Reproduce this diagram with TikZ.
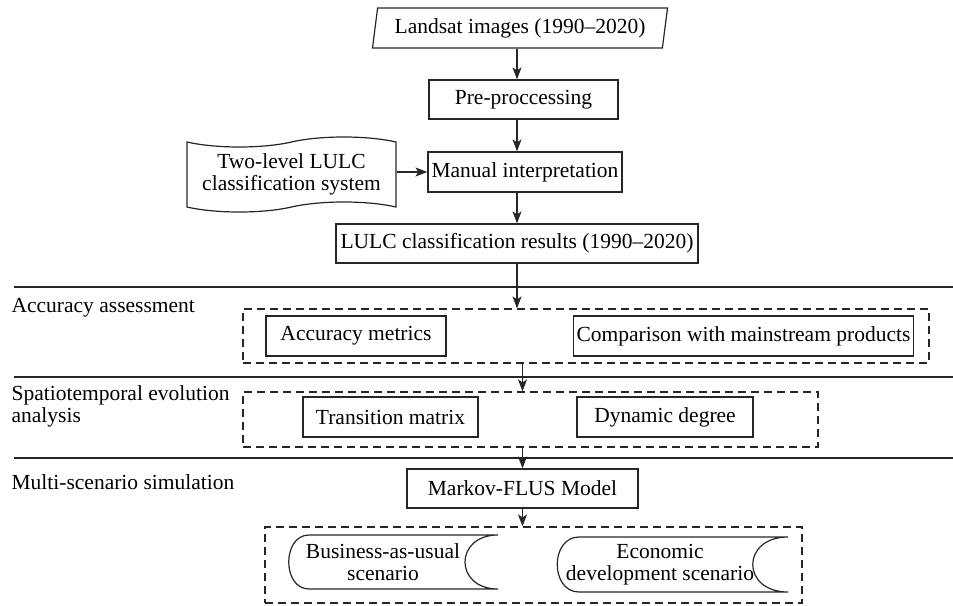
\documentclass[tikz,border=0pt]{standalone}
\usepackage{fontspec}
\setmainfont{Liberation Serif}
\usepackage{tikz}
\usetikzlibrary{arrows.meta,shapes.geometric,shapes.symbols}

\begin{document}
\begin{tikzpicture}[x=1pt,y=-1pt,font=\fontsize{21.5}{22}\selectfont,
line width=1.2pt,draw=black!85,
box/.style={draw, rectangle, inner sep=3pt, minimum height=40pt},
dashbox/.style={draw, rectangle, dash pattern=on 8pt off 5pt},
doc/.style={draw, tape, tape bend height=10pt, align=center, inner sep=3pt},
indata/.style={draw, trapezium, trapezium left angle=79, trapezium right angle=101,
    trapezium stretches body, minimum width=295pt, minimum height=40pt},
arr/.style={-{Stealth[length=12pt,width=9pt,inset=3pt]}},
sep/.style={line width=1.4pt},
stage/.style={anchor=west, align=left, inner sep=0pt}]
\useasboundingbox (0,0) rectangle (953,605);

% data preparation
\node[indata] (landsat) at (520,28) {Landsat images (1990--2020)};
\node[box, minimum width=189pt, minimum height=39pt] (pre) at (523.5,99.5) {Pre-proccessing};
\node[box, minimum width=194pt] (manual) at (525,172) {Manual interpretation};
\node[doc, minimum width=209pt, minimum height=75pt] (lulcsys) at (291.5,174.5) {Two-level LULC\\classification system};
\node[box, minimum width=362pt, minimum height=39pt] (results) at (517,243.5) {LULC classification results (1990--2020)};

% stages
\draw[sep] (14,287) -- (953,287);
\draw[sep] (14,377) -- (953,377);
\draw[sep] (14,458) -- (953,458);
\node[stage] (accstage) at (11,308) {Accuracy assessment};
\node[stage] (evostage) at (11,406) {Spatiotemporal evolution\\analysis};
\node[stage] (simstage) at (11,482) {Multi-scenario simulation};

\node[dashbox, minimum width=686pt, minimum height=54pt] (accgroup) at (586,336) {};
\node[box, minimum width=180pt] (metrics) at (356,336) {Accuracy metrics};
\node[box, minimum width=339pt] (compare) at (743.5,336) {Comparison with mainstream products};

\node[dashbox, minimum width=575pt, minimum height=55pt] (evogroup) at (530.5,419.5) {};
\node[box, minimum width=175pt] (transition) at (390.5,417) {Transition matrix};
\node[box, minimum width=176pt] (dynamic) at (665,417) {Dynamic degree};

\node[box, minimum width=231pt, minimum height=39pt] (markov) at (522.5,488.5) {Markov-FLUS Model};
\node[dashbox, minimum width=537pt, minimum height=76pt] (simgroup) at (533.5,565) {};
\node[align=center, inner sep=0pt] (bau) at (383,562) {Business-as-usual\\scenario};
\node[align=center, inner sep=0pt] (econ) at (660,564.5) {Economic\\development scenario};
\draw (bau.center) ++(115,-27) -- ++(-189,0) .. controls +(-27,0) and +(-27,0) .. ++(0,54)
  -- ++(189,0) .. controls +(-44,0) and +(-44,0) .. ++(0,-54);
\draw (econ.center) ++(128,-27.5) -- ++(-209,0) .. controls +(-29,0) and +(-29,0) .. ++(0,55)
  -- ++(209,0) .. controls +(-47,0) and +(-47,0) .. ++(0,-55);

% connectors
\draw[arr] (landsat.south -| results) -- (pre.north -| results);
\draw[arr] (pre.south -| results) -- (manual.north -| results);
\draw[arr] (lulcsys.east |- manual) -- (manual.west);
\draw[arr] (manual.south -| results) -- (results.north);
\draw[arr] (results.south) -- (accgroup.north -| results);
\draw[arr] (accgroup.south -| markov) -- (evogroup.north -| markov);
\draw[arr] (evogroup.south -| markov) -- (markov.north);
\draw[arr] (markov.south) -- (simgroup.north -| markov);
\end{tikzpicture}
\end{document}
